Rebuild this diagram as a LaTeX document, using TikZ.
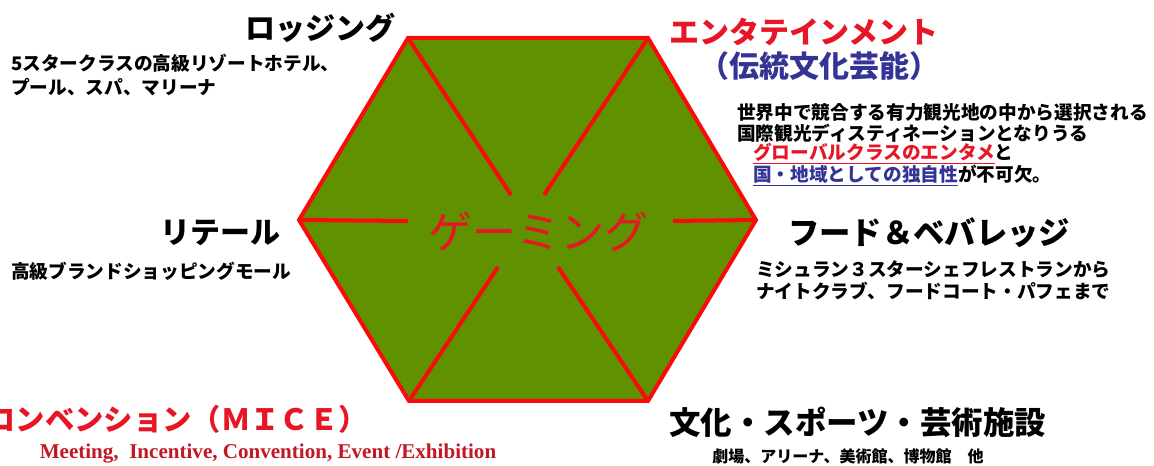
\documentclass[tikz,border=0pt]{standalone}
\usepackage{fontspec}
\setmainfont{Liberation Serif}
\newfontfamily\jp{Noto Sans CJK JP}
\definecolor{hexgreen}{RGB}{95,145,0}
\definecolor{hexred}{RGB}{250,10,10}
\definecolor{titlered}{RGB}{232,22,36}
\definecolor{indigo}{RGB}{52,52,150}
\definecolor{miceRed}{RGB}{192,24,36}
\tikzset{
	title/.style={inner sep=0pt, font=\jp\bfseries\fontsize{22.5}{26}\selectfont},
	desc/.style={inner sep=0pt, align=left, font=\jp\bfseries\fontsize{14}{18}\selectfont},
	spoke/.style={draw=hexred, line width=3pt},
}
\begin{document}
		\begin{tikzpicture}[x=0.75pt,y=-0.75pt]
			\useasboundingbox (0,0) rectangle (1154,466);
			% hexagon
			\coordinate[] (tl) at (408,38);
			\coordinate[] (tr) at (648,38);
			\coordinate[] (r) at (756,220);
			\coordinate[] (br) at (648,401);
			\coordinate[] (bl) at (409,401);
			\coordinate[] (l) at (299,220);
			\path[draw=hexred, fill=hexgreen, line width=3pt] (tl) -- (tr) -- (r) -- (br) -- (bl) -- (l) -- cycle;
			\coordinate[] (tl2) at (511,195);
			\coordinate[] (tr2) at (544,195);
			\coordinate[] (r2) at (673,221);
			\coordinate[] (br2) at (558,267);
			\coordinate[] (bl2) at (498,267);
			\coordinate[] (l2) at (408,221);
			\draw[spoke] (tl) -- (tl2);
			\draw[spoke] (tr) -- (tr2);
			\draw[spoke] (r) -- (r2);
			\draw[spoke] (br) -- (br2);
			\draw[spoke] (bl) -- (bl2);
			\draw[spoke] (l) -- (l2);
			\node[inner sep=0pt, text=titlered, font=\jp\fontsize{33}{36}\selectfont] (gaming) at (538,232) {ゲーミング};
			% lodging
			\node[title, anchor=east] (lodging) at (396,28) {ロッジング};
			\node[desc, anchor=west] (lodgingtxt) at (11,75) {5スタークラスの高級リゾートホテル、\\プール、スパ、マリーナ};
			% entertainment
			\node[title, text=titlered] (ent) at (804,32) {エンタテインメント};
			\node[title, text=indigo] (trad) at (819,66) {（伝統文化芸能）};
			\node[desc, anchor=west, font=\jp\bfseries\fontsize{14}{16}\selectfont] (enttxt) at (737,123) {世界中で競合する有力観光地の中から選択される\\国際観光ディスティネーションとなりうる};
			\node[desc, anchor=west, font=\jp\bfseries\fontsize{14}{16.5}\selectfont] (enttxt2) at (753,165) {{\color{titlered}\underline{グローバルクラスのエンタメ}}と\\{\color{indigo}\underline{国・地域としての独自性}}が不可欠。};
			% retail
			\node[title, anchor=east] (retail) at (281,233) {リテール};
			\node[desc, anchor=west] (retailtxt) at (11,271) {高級ブランドショッピングモール};
			% food
			\node[title, anchor=west, font=\jp\bfseries\fontsize{23.5}{26}\selectfont] (food) at (788,233) {フード＆ベバレッジ};
			\node[desc, anchor=west, font=\jp\bfseries\fontsize{14}{16.5}\selectfont] (foodtxt) at (756,280) {ミシュラン３スターシェフレストランから\\ナイトクラブ、フードコート・パフェまで};
			% mice
			\node[title, anchor=east, text=titlered, font=\jp\bfseries\fontsize{22}{26}\selectfont] (mice) at (368,419) {コンベンション（ＭＩＣＥ）};
			\node[inner sep=0pt, anchor=base, text=miceRed, font=\bfseries\fontsize{15.8}{19}\selectfont] (micetxt) at (268,459) {Meeting,\ \ Incentive, Convention, Event /Exhibition};
			% culture
			\node[title, anchor=west, font=\jp\bfseries\fontsize{23.6}{26}\selectfont] (culture) at (669,422) {文化・スポーツ・芸術施設};
			\node[desc, font=\jp\bfseries\fontsize{12}{15}\selectfont] (culturetxt) at (848,456) {劇場、アリーナ、美術館、博物館　他};
		\end{tikzpicture}
\end{document}
